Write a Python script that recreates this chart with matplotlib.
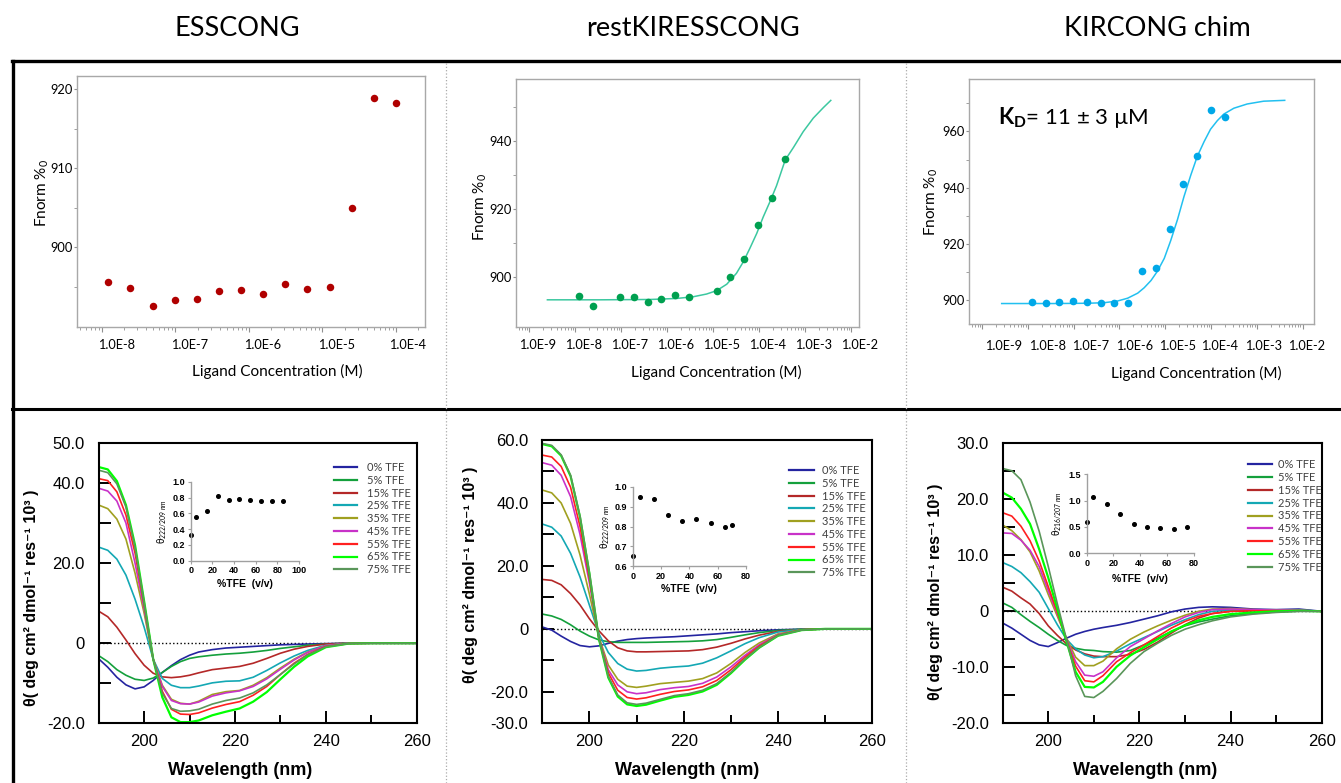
import numpy as np
import matplotlib
matplotlib.use('Agg')
import matplotlib.pyplot as plt
import matplotlib.transforms as mtransforms
from matplotlib.lines import Line2D

W, H = 1341, 783
plt.rcParams['font.family'] = ['Lato', 'DejaVu Sans']
plt.rcParams['mathtext.fontset'] = 'custom'
plt.rcParams['mathtext.rm'] = 'Lato'
plt.rcParams['mathtext.bf'] = 'Lato:bold'
plt.rcParams['mathtext.it'] = 'Lato:italic'
ARIAL = ['Liberation Sans', 'DejaVu Sans']

# ---------------- data: MST binding curves ----------------
titles = ['ESSCONG', 'restKIRESSCONG', 'KIRCONG chim']

ess_conc = [1.22e-8, 2.44e-8, 4.88e-8, 9.77e-8, 1.95e-7, 3.91e-7, 7.81e-7,
            1.56e-6, 3.13e-6, 6.25e-6, 1.25e-5, 2.5e-5, 5e-5, 1e-4]
ess_fnorm = [895.6, 894.8, 892.5, 893.3, 893.4, 894.4, 894.6,
             894.1, 895.4, 894.7, 895.0, 905.0, 918.9, 918.3]

rest_conc = [1.22e-8, 2.43e-8, 9.7e-8, 1.92e-7, 3.8e-7, 7.5e-7, 1.51e-6,
             3.05e-6, 1.2e-5, 2.38e-5, 4.72e-5, 9.5e-5, 1.89e-4, 3.73e-4]
rest_fnorm = [894.4, 891.4, 894.0, 893.9, 892.5, 893.3, 894.7,
              893.9, 895.9, 899.9, 905.1, 915.1, 923.0, 934.5]
rest_fit_logc = [-8.60, -7.46, -6.37, -5.79, -5.43, -5.14, -4.92, -4.70, -4.49, -4.34, -4.20,
                 -4.05, -3.91, -3.76, -3.62, -3.43, -3.25, -3.04, -2.82, -2.60, -2.44]
rest_fit_val = [893.2, 893.2, 893.3, 893.6, 894.1, 894.9, 895.9, 897.8, 901.0, 904.4, 908.3,
                912.7, 917.5, 922.1, 926.7, 934.3, 938.0, 942.6, 946.6, 949.7, 951.8]

kir_conc = [1.22e-8, 2.44e-8, 4.88e-8, 9.77e-8, 1.95e-7, 3.91e-7, 7.81e-7, 1.56e-6,
            3.13e-6, 6.25e-6, 1.25e-5, 2.5e-5, 5e-5, 1e-4, 2e-4]
kir_fnorm = [899.4, 898.9, 899.2, 899.6, 899.3, 898.9, 899.0, 899.0,
             910.3, 911.2, 925.1, 941.3, 951.2, 967.6, 965.0]
kir_fit_logc = [-8.57, -7.41, -6.69, -6.33, -6.04, -5.82, -5.60, -5.46, -5.31, -5.17, -5.02, -4.88,
                -4.73, -4.59, -4.44, -4.30, -4.15, -4.01, -3.86, -3.72, -3.50, -3.21, -2.85, -2.39]
kir_fit_val = [898.7, 898.7, 898.8, 899.0, 899.6, 900.6, 902.4, 904.3, 906.9, 910.2, 914.8, 921.1,
               928.7, 936.8, 944.5, 951.1, 956.4, 960.8, 963.9, 966.2, 968.3, 969.8, 970.8, 971.1]

# ---------------- data: CD spectra ----------------
wl = [190, 192, 194, 196, 198, 200, 202, 204, 206, 208, 210, 212, 215, 218, 221,
      224, 227, 230, 233, 236, 240, 245, 250, 255, 260]
tfe_labels = ['0% TFE', '5% TFE', '15% TFE', '25% TFE', '35% TFE',
              '45% TFE', '55% TFE', '65% TFE', '75% TFE']
tfe_colors = ['#2424A0', '#14A03C', '#B42828', '#14A8B4', '#A0A020',
              '#C832C8', '#FF2020', '#00FF00', '#5A965A']

ess_cd = [
    [-3.9, -6.0, -8.5, -10.4, -11.4, -10.9, -9.3, -7.3, -5.6, -4.1, -3.0, -2.2, -1.6, -1.2, -1.0, -0.8, -0.6, -0.4, -0.3, -0.2, -0.1, 0, 0, 0, 0],
    [-3.1, -4.6, -6.6, -8.0, -9.0, -9.3, -8.7, -7.3, -5.8, -4.6, -3.8, -3.4, -3.0, -2.7, -2.5, -2.2, -1.8, -1.3, -0.9, -0.5, -0.2, 0, 0, 0, 0],
    [8.0, 6.6, 4.0, 0.8, -2.6, -5.5, -7.5, -8.4, -8.6, -8.4, -8.0, -7.4, -6.6, -6.2, -5.8, -5.0, -3.8, -2.5, -1.5, -0.8, -0.2, 0, 0, 0, 0],
    [24.0, 23.2, 21.0, 17.0, 11.0, 4.0, -4.0, -8.8, -10.5, -11.1, -11.1, -10.7, -9.9, -9.5, -9.4, -8.5, -6.8, -4.9, -3.2, -1.8, -0.5, 0, 0, 0, 0],
    [34.5, 33.6, 31.0, 26.0, 17.5, 7.5, -4.0, -10.5, -14.0, -15.0, -15.2, -14.5, -12.8, -12.1, -11.8, -10.5, -8.6, -6.2, -4.0, -2.2, -0.6, 0, 0, 0, 0],
    [38.7, 38.0, 35.5, 30.0, 20.0, 8.5, -4.0, -10.8, -14.3, -15.1, -15.2, -14.7, -13.2, -12.4, -11.9, -10.8, -8.9, -6.5, -4.2, -2.3, -0.6, 0, 0, 0, 0],
    [41.1, 40.6, 37.8, 32.0, 22.5, 9.5, -4.0, -12.0, -16.5, -17.7, -17.8, -17.4, -16.2, -15.3, -14.6, -13.0, -10.8, -7.8, -5.0, -2.8, -0.8, -0.1, 0, 0, 0],
    [44.0, 43.4, 40.5, 34.5, 24.5, 10.5, -4.0, -13.5, -18.5, -19.7, -19.7, -19.3, -18.0, -17.1, -16.3, -14.6, -12.2, -9.0, -5.9, -3.3, -1.0, -0.1, 0, 0, 0],
    [43.2, 42.6, 39.8, 34.0, 24.0, 10.2, -4.0, -12.5, -16.3, -17.0, -16.9, -16.5, -15.2, -14.3, -13.7, -12.4, -10.4, -7.8, -5.2, -2.9, -0.9, -0.1, 0, 0, 0],
]
rest_cd = [
    [0.6, -0.4, -2.3, -4.0, -5.3, -5.7, -5.4, -4.6, -3.9, -3.4, -3.1, -2.9, -2.7, -2.5, -2.2, -1.9, -1.6, -1.2, -0.9, -0.6, -0.3, -0.1, 0, 0, 0],
    [4.7, 4.1, 3.0, 1.3, -0.7, -2.3, -3.5, -4.1, -4.3, -4.3, -4.3, -4.3, -4.2, -4.1, -4.0, -3.8, -3.4, -2.7, -1.9, -1.2, -0.5, -0.1, 0, 0, 0],
    [15.7, 15.4, 14.0, 11.2, 7.6, 3.2, -0.6, -3.8, -6.0, -7.0, -7.3, -7.3, -7.2, -7.1, -7.0, -6.6, -5.8, -4.6, -3.2, -2.0, -0.8, -0.2, 0, 0, 0],
    [33.3, 32.3, 29.5, 24.0, 16.5, 7.5, -1.5, -7.5, -11.0, -12.8, -13.4, -13.2, -12.5, -12.1, -11.8, -10.9, -9.2, -7.0, -4.7, -2.8, -1.0, -0.2, 0, 0, 0],
    [44.1, 43.2, 40.0, 33.5, 23.5, 11.0, -2.5, -11.5, -16.0, -18.2, -18.6, -18.2, -17.4, -17.0, -16.6, -15.8, -14.0, -11.0, -7.5, -4.5, -1.6, -0.3, 0, 0, 0],
    [52.8, 52.0, 48.8, 42.0, 30.0, 14.5, -2.8, -13.0, -17.8, -20.0, -20.6, -20.3, -19.3, -18.7, -18.3, -17.3, -15.3, -12.1, -8.4, -5.1, -1.8, -0.3, 0, 0, 0],
    [55.2, 54.6, 51.6, 45.0, 32.5, 16.0, -3.0, -14.0, -19.5, -21.8, -22.3, -21.9, -20.8, -19.9, -19.4, -18.4, -16.4, -13.0, -9.0, -5.5, -2.0, -0.3, 0, 0, 0],
    [58.7, 58.0, 55.0, 48.5, 35.5, 17.5, -3.2, -15.5, -21.5, -24.0, -24.5, -24.1, -22.8, -21.6, -21.0, -19.9, -17.8, -14.1, -9.8, -6.0, -2.2, -0.4, 0, 0, 0],
    [58.9, 58.3, 55.3, 48.8, 35.8, 17.8, -3.0, -15.1, -21.0, -23.5, -24.0, -23.6, -22.4, -21.2, -20.6, -19.5, -17.4, -13.8, -9.6, -5.9, -2.1, -0.4, 0, 0, 0],
]
kir_cd = [
    [-2.1, -3.0, -4.1, -5.2, -6.0, -6.3, -5.6, -4.8, -4.1, -3.6, -3.2, -2.9, -2.5, -2.0, -1.4, -0.8, -0.1, 0.4, 0.7, 0.8, 0.7, 0.4, 0.3, 0.4, 0.0],
    [1.5, 0.7, -0.6, -1.8, -2.9, -4.1, -5.2, -6.1, -6.6, -6.9, -7.0, -7.2, -7.3, -7.0, -6.0, -4.8, -3.6, -2.6, -1.9, -1.4, -0.8, -0.4, -0.1, 0.0, 0.0],
    [4.3, 3.6, 2.4, 1.3, -0.4, -2.6, -4.3, -5.8, -6.9, -7.6, -8.0, -8.1, -8.1, -7.7, -6.8, -5.5, -3.9, -2.4, -1.2, -0.4, 0.0, 0.1, 0.1, 0.1, 0.0],
    [8.7, 8.0, 6.9, 5.3, 3.4, 0.5, -2.4, -5.0, -6.7, -7.8, -8.3, -8.1, -7.1, -5.8, -4.7, -3.6, -2.5, -1.5, -0.6, 0.0, 0.2, 0.2, 0.2, 0.2, 0.0],
    [15.4, 14.4, 12.8, 10.6, 7.2, 3.0, -0.9, -4.8, -8.2, -9.7, -9.7, -8.9, -6.7, -5.0, -3.7, -2.6, -1.6, -0.7, 0.0, 0.4, 0.5, 0.3, 0.2, 0.2, 0.0],
    [14.0, 13.9, 12.7, 10.9, 8.0, 3.7, -0.5, -5.0, -9.0, -11.4, -11.6, -10.8, -8.3, -6.3, -4.9, -3.5, -2.2, -1.0, -0.2, 0.3, 0.4, 0.3, 0.2, 0.2, 0.0],
    [17.6, 17.0, 15.2, 12.6, 9.0, 4.4, -0.2, -5.2, -9.8, -12.4, -12.6, -11.5, -9.0, -7.4, -6.0, -4.5, -3.0, -1.8, -0.9, -0.4, 0.0, 0.1, 0.1, 0.1, 0.0],
    [21.2, 20.3, 18.3, 15.6, 11.1, 6.0, 0.4, -5.4, -10.8, -13.5, -13.6, -12.6, -9.9, -7.9, -6.4, -5.0, -3.6, -2.5, -1.6, -1.0, -0.5, -0.2, 0.0, 0.1, 0.0],
    [25.5, 25.1, 23.5, 19.5, 14.3, 8.0, 1.3, -5.0, -11.5, -15.2, -15.4, -14.3, -12.0, -9.3, -7.2, -5.7, -4.3, -3.2, -2.4, -1.7, -1.0, -0.5, -0.2, 0.0, 0.0],
]

# inset data: ellipticity ratio vs %TFE
ess_in_tfe = [0, 5, 15, 25, 35, 45, 55, 65, 75, 85]
ess_in_ratio = [0.32, 0.55, 0.63, 0.82, 0.77, 0.78, 0.77, 0.75, 0.76, 0.76]
rest_in_tfe = [0, 5, 15, 25, 35, 45, 55, 65, 70]
rest_in_ratio = [0.65, 0.95, 0.94, 0.86, 0.83, 0.84, 0.82, 0.80, 0.81]
kir_in_tfe = [0, 5, 15, 25, 35, 45, 55, 65, 75]
kir_in_ratio = [0.60, 1.06, 0.94, 0.74, 0.55, 0.49, 0.48, 0.46, 0.49]

fig = plt.figure(figsize=(W / 100, H / 100), dpi=100)


def box(x0, y0, x1, y1):
    return [x0 / W, 1 - y1 / H, (x1 - x0) / W, (y1 - y0) / H]


# ---------------- frame and titles ----------------
fig.add_artist(Line2D([12 / W, 1], [1 - 61 / H] * 2, color='k', lw=2.4))
fig.add_artist(Line2D([13 / W] * 2, [0, 1 - 61 / H], color='k', lw=2.4))
fig.add_artist(Line2D([12 / W, 1], [1 - 409 / H] * 2, color='k', lw=2.2))
for xv in (446, 906):
    fig.add_artist(Line2D([xv / W] * 2, [0, 1 - 62 / H], color='#AAAAAA', lw=0.9, ls=':'))
for xc, t in zip((237, 693, 1157), titles):
    fig.text(xc / W, 1 - 28 / H, t, ha='center', va='center', fontsize=19.5)


# ---------------- top row: MST ----------------
def mst_axes(rect, xlim_log, ylim, yticks, ymin, decades, label_off, xlab_pos, ylab_pos, tick_pad):
    ax = fig.add_axes(rect)
    ax.set_xscale('log')
    ax.set_xlim(10 ** xlim_log[0], 10 ** xlim_log[1])
    ax.set_ylim(*ylim)
    for s in ax.spines.values():
        s.set_color('#A8A8A8')
        s.set_linewidth(1.0)
    ax.set_yticks(yticks)
    ax.set_yticklabels([str(v) for v in yticks])
    ax.set_yticks(ymin, minor=True)
    ax.tick_params(axis='y', which='both', direction='out', length=2.5, color='#909090',
                   labelsize=9.3, pad=0.5)
    ax.set_xticks([10.0 ** d for d in decades])
    ax.set_xticklabels(['1.0E%d' % d for d in decades])
    ax.xaxis.set_minor_locator(matplotlib.ticker.LogLocator(base=10, subs=np.arange(2, 10), numticks=20))
    ax.xaxis.set_minor_formatter(matplotlib.ticker.NullFormatter())
    ax.tick_params(axis='x', which='major', direction='out', length=3.5, color='#909090',
                   labelsize=9.2, pad=tick_pad)
    ax.tick_params(axis='x', which='minor', direction='out', length=2, color='#909090')
    for tk, off in zip(ax.xaxis.get_major_ticks(), label_off):
        tk.label1.set_transform(tk.label1.get_transform() +
                                mtransforms.ScaledTranslation(off / 100, 0, fig.dpi_scale_trans))
    ax.set_xlabel('Ligand Concentration (M)', fontsize=11, va='center')
    ax.xaxis.set_label_coords(*xlab_pos)
    ax.set_ylabel('Fnorm %$_{\\mathregular{0}}$', fontsize=11, va='center')
    ax.yaxis.set_label_coords(*ylab_pos)
    return ax


ax1 = mst_axes(box(77, 76, 425, 327), (-8.34, -3.605), (889.9, 921.7), [900, 910, 920],
               [895, 905, 915], range(-8, -3), [15, 14.5, 14, 14, 12],
               (0.576, -0.178), (-0.101, 0.534), 5.0)
ax1.plot(ess_conc, ess_fnorm, 'o', color='#B00000', ms=5.4, mec='none')

ax2 = mst_axes(box(515.7, 79.3, 859.3, 326.7), (-9.289, -1.82), (885.3, 958.0), [900, 920, 940],
               [910, 930, 950], range(-9, -1), [8.5] * 8,
               (0.585, -0.186), (-0.103, 0.485), 5.0)
ax2.plot(10 ** np.array(rest_fit_logc), rest_fit_val, '-', color='#3CC8A0', lw=1.1)
ax2.plot(rest_conc, rest_fnorm, 'o', color='#00A050', ms=5.5, mec='none')

ax3 = mst_axes(box(969, 79.3, 1314.3, 324.3), (-9.284, -1.744), (891.3, 978.6), [900, 920, 940, 960],
               [910, 930, 950, 970], range(-9, -1), [22, 19.5, 17, 15, 12, 9, 6.5, 4],
               (0.659, -0.2), (-0.108, 0.5), 8.0)
ax3.plot(10 ** np.array(kir_fit_logc), kir_fit_val, '-', color='#22C0F0', lw=1.1)
ax3.plot(kir_conc, kir_fnorm, 'o', color='#00A8E8', ms=5.5, mec='none')
ax3.text(0.085, 0.845, r'$\mathbf{K_D}$= 11 ± 3 µM', transform=ax3.transAxes,
         fontsize=16, va='center', ha='left')


# ---------------- bottom row: CD spectra ----------------
def cd_axes(rect, curves, ylim, yt, ytl, xlab_pos, ylab_pos, leg_pos, leg_hl, leg_pad):
    ax = fig.add_axes(rect)
    ax.axhline(0, color='k', ls=':', lw=1.0, zorder=1)
    handles = []
    for vals, lab, col in zip(curves, tfe_labels, tfe_colors):
        lw = 1.6 if lab == '65% TFE' else 1.2
        h, = ax.plot(wl, vals, color=col, lw=lw, label=lab, zorder=2, solid_joinstyle='round')
        handles.append(h)
    ax.set_xlim(190, 260)
    ax.set_ylim(*ylim)
    for s in ax.spines.values():
        s.set_linewidth(1.5)
    ax.set_xticks([200, 220, 240, 260])
    ax.set_xticklabels(['200', '220', '240', '260'], fontfamily=ARIAL)
    ax.set_xticks([210, 230, 250], minor=True)
    ax.set_yticks(yt)
    ax.set_yticklabels(ytl, fontfamily=ARIAL)
    ax.tick_params(axis='x', which='major', direction='in', length=8.5, width=1.4, labelsize=12, pad=8)
    ax.tick_params(axis='x', which='minor', direction='in', length=6, width=1.4)
    ax.tick_params(axis='y', which='major', direction='in', length=8.5, width=1.4, labelsize=12, pad=10)
    ax.set_xlabel('Wavelength (nm)', fontsize=13, fontweight='bold', fontfamily=ARIAL, va='center')
    ax.xaxis.set_label_coords(*xlab_pos)
    ax.set_ylabel('θ( deg cm² dmol⁻¹ res⁻¹ 10³ )', fontsize=11.5, fontweight='bold',
                  fontfamily=ARIAL, va='center')
    ax.yaxis.set_label_coords(*ylab_pos)
    leg = ax.legend(handles=handles, loc='upper left', bbox_to_anchor=(leg_pos[0] / W, 1 - leg_pos[1] / H),
                    bbox_transform=fig.transFigure, frameon=False, fontsize=8, borderpad=0,
                    borderaxespad=0, labelspacing=0.16, handlelength=leg_hl, handletextpad=leg_pad)
    for t in leg.get_texts():
        t.set_color('#404040')
    for ln in leg.get_lines():
        ln.set_linewidth(1.6)
    return ax


ax4 = cd_axes(box(98.7, 443, 416.7, 723.3), ess_cd, (-20, 50), range(-20, 51, 10),
              ['-20.0', '', '0', '', '20.0', '', '40.0', '50.0'],
              (0.444, -0.170), (-0.211, 0.447), (334, 462), 2.07, 0.9)
ax5 = cd_axes(box(542.3, 440, 872.3, 723.3), rest_cd, (-30, 60), range(-30, 61, 10),
              ['-30.0', '-20.0', '', '0', '', '20.0', '', '40.0', '', '60.0'],
              (0.4376, -0.168), (-0.219, 0.523), (789.3, 465), 2.2, 0.78)
ax6 = cd_axes(box(1002.7, 443.3, 1321.7, 723.3), kir_cd, (-20, 30), range(-20, 31, 5),
              ['-20.0', '', '-10.0', '', '0', '', '10.0', '', '20.0', '', '30.0'],
              (0.446, -0.170), (-0.212, 0.47), (1247.7, 459.3), 2.16, 0.54)


# ---------------- insets ----------------
def inset(rect, x, y, xlim, xt, ylim, yt, ylab, xlab_dy, ylab_dx):
    ax = fig.add_axes(rect)
    ax.plot(x, y, 'o', color='k', ms=2.6, clip_on=False)
    ax.set_xlim(*xlim)
    ax.set_ylim(*ylim)
    ax.spines['top'].set_visible(False)
    ax.spines['right'].set_visible(False)
    for s in ('left', 'bottom'):
        ax.spines[s].set_color('#A0A0A0')
        ax.spines[s].set_linewidth(1.0)
    ax.patch.set_alpha(0)
    ax.set_xticks(xt)
    ax.set_yticks(yt)
    ax.set_xticklabels([str(v) for v in xt], fontfamily=ARIAL, fontweight='bold')
    ax.set_yticklabels(['%.1f' % v for v in yt], fontfamily=ARIAL, fontweight='bold')
    ax.tick_params(which='both', direction='out', length=2.5, width=0.8, color='#A0A0A0',
                   labelsize=6.5, pad=1.5)
    ax.set_xlabel('%TFE  (v/v)', fontsize=7.5, fontweight='bold', fontfamily=ARIAL, va='center')
    ax.xaxis.set_label_coords(0.5, xlab_dy)
    ax.set_ylabel(ylab, fontsize=7, fontfamily=ARIAL, va='center')
    ax.yaxis.set_label_coords(ylab_dx, 0.5)
    return ax


inset(box(190.7, 481.7, 299, 560.7), ess_in_tfe, ess_in_ratio, (0, 100), [0, 20, 40, 60, 80, 100],
      (0, 1.0), [0.0, 0.2, 0.4, 0.6, 0.8, 1.0], 'θ$_{222/209\\ nm}$', -0.30, -0.27)
inset(box(632.7, 486.7, 746, 566.3), rest_in_tfe, rest_in_ratio, (0, 80), [0, 20, 40, 60, 80],
      (0.6, 1.0), [0.6, 0.7, 0.8, 0.9, 1.0], 'θ$_{222/209\\ nm}$', -0.29, -0.245)
inset(box(1086.7, 474.3, 1193.7, 553.3), kir_in_tfe, kir_in_ratio, (0, 80), [0, 20, 40, 60, 80],
      (0, 1.5), [0.0, 0.5, 1.0, 1.5], 'θ$_{216/207\\ nm}$', -0.32, -0.28)

fig.savefig('out.png', dpi=100)
